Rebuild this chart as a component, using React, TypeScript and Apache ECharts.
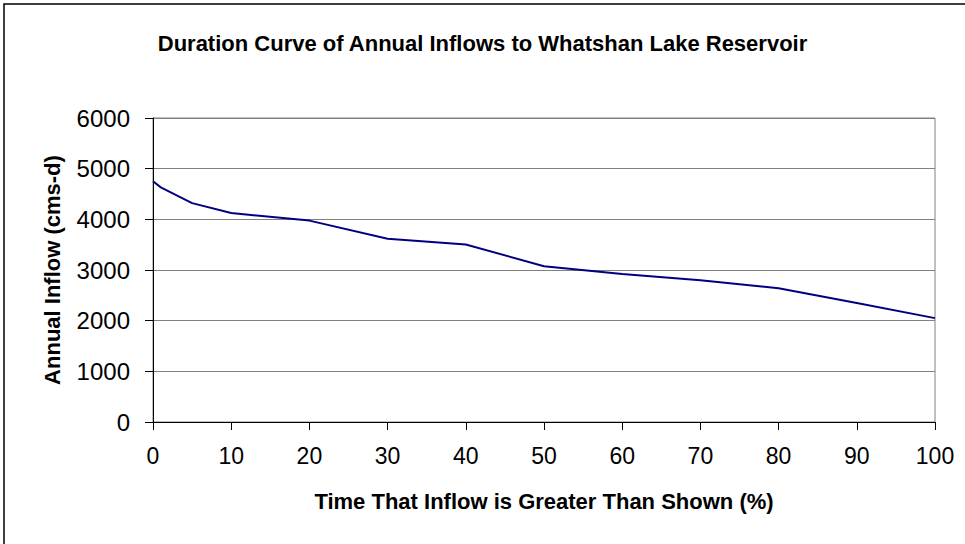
import React, { useEffect, useRef } from "react";
import * as echarts from "echarts";

const exceedancePct = [0, 1, 5, 10, 20, 30, 40, 50, 60, 70, 80, 90, 100];
const annualInflow = [4750, 4630, 4320, 4125, 3975, 3615, 3505, 3075, 2920, 2800, 2640, 2350, 2050];
const titleText = "Duration Curve of Annual Inflows to Whatshan Lake Reservoir";
const xTitle = "Time That Inflow is Greater Than Shown (%)";
const yTitle = "Annual Inflow (cms-d)";

export default function App() {
  const ref = useRef<HTMLDivElement>(null);
  useEffect(() => {
    if (!ref.current) return;
    const chart = echarts.init(ref.current, undefined, { renderer: "svg" });
    const font = "'Liberation Sans', Arial, sans-serif";
    chart.setOption({
      animation: false,
      backgroundColor: "#ffffff",
      title: {
        text: titleText,
        left: "center",
        top: 27,
        textStyle: { fontFamily: font, fontSize: 22, fontWeight: "bold", color: "#000" },
      },
      grid: {
        left: 153,
        top: 118,
        right: 30,
        bottom: 122,
        show: true,
        borderColor: "#808080",
        borderWidth: 1,
        backgroundColor: "transparent",
      },
      xAxis: {
        type: "value",
        min: 0,
        max: 100,
        interval: 10,
        name: xTitle,
        nameLocation: "middle",
        nameGap: 68,
        nameTextStyle: { fontFamily: font, fontSize: 22, fontWeight: "bold", color: "#000" },
        axisLine: { show: true, lineStyle: { color: "#000", width: 1 } },
        axisTick: { show: true, inside: false, length: 8, lineStyle: { color: "#000" } },
        axisLabel: { fontFamily: font, fontSize: 23, color: "#000", margin: 22 },
        splitLine: { show: false },
      },
      yAxis: {
        type: "value",
        min: 0,
        max: 6000,
        interval: 1000,
        name: yTitle,
        nameLocation: "middle",
        nameGap: 90,
        nameRotate: 90,
        nameTextStyle: { fontFamily: font, fontSize: 22, fontWeight: "bold", color: "#000" },
        axisLine: { show: true, lineStyle: { color: "#000", width: 1 } },
        axisTick: { show: true, inside: false, length: 8, lineStyle: { color: "#000" } },
        axisLabel: {
          fontFamily: font,
          fontSize: 24,
          color: "#000",
          margin: 23,
          formatter: (v: number) => String(v),
        },
        splitLine: { show: true, lineStyle: { color: "#808080", width: 1 } },
      },
      series: [
        {
          type: "line",
          data: exceedancePct.map((x, i) => [x, annualInflow[i]]),
          symbol: "none",
          lineStyle: { color: "#000080", width: 2 },
        },
      ],
      graphic: [
        {
          type: "rect",
          shape: { x: 4, y: 4, width: 990, height: 560 },
          style: { fill: "none", stroke: "#000", lineWidth: 1.5 },
          silent: true,
        },
      ],
    });
    return () => chart.dispose();
  }, []);
  return (
    <div
      ref={ref}
      style={{ position: "fixed", left: 0, top: 0, width: 965, height: 544 }}
    />
  );
}
